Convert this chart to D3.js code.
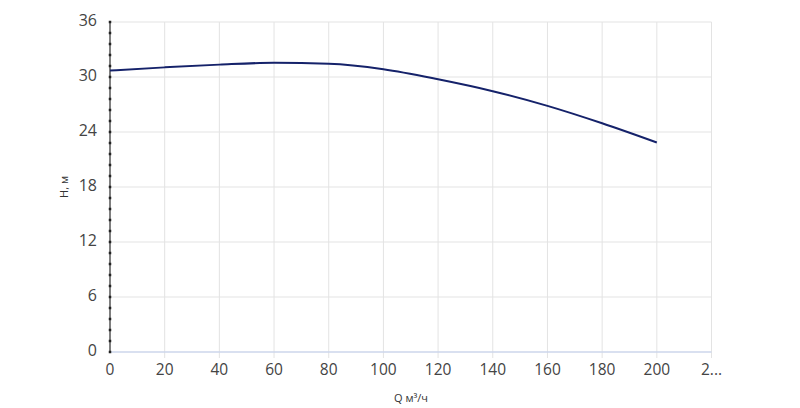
<!DOCTYPE html><html><head><meta charset="utf-8"><script src="https://d3js.org/d3.v7.min.js"></script>
<style>body{margin:0;background:#fff}</style></head><body><svg id="c" width="800" height="408"></svg><script>
const qValues=[0,20,40,60,80,100,120,140,160,180,200];
const hValues=[30.7,31.05,31.35,31.55,31.45,30.85,29.75,28.45,26.85,24.95,22.85];
const xTicks=[0,20,40,60,80,100,120,140,160,180,200,220];
const yTicks=[0,6,12,18,24,30,36];
const svg=d3.select("#c");
const x=d3.scaleLinear().domain([0,220]).range([110,711.5]);
const y=d3.scaleLinear().domain([0,36]).range([352,22]);
const font="Open Sans, sans-serif";
svg.append("g").selectAll("line").data(xTicks.slice(1)).join("line")
 .attr("x1",d=>x(d)).attr("x2",d=>x(d)).attr("y1",y(36)).attr("y2",y(0)+6).attr("stroke","#e3e3e3");
svg.append("g").selectAll("line").data(yTicks.slice(1)).join("line")
 .attr("x1",x(0)).attr("x2",x(220)).attr("y1",d=>y(d)).attr("y2",d=>y(d)).attr("stroke","#e3e3e3");
svg.append("line").attr("x1",x(0)).attr("x2",x(220)).attr("y1",y(0)).attr("y2",y(0)).attr("stroke","#ccd6eb").attr("stroke-width",1.5);
svg.append("line").attr("x1",x(0)).attr("x2",x(0)).attr("y1",y(0)).attr("y2",y(36)).attr("stroke","#555").attr("stroke-width",1.5);
svg.append("g").selectAll("rect").data(d3.range(0,36.01,1.2)).join("rect")
 .attr("x",x(0)-1.25).attr("y",d=>y(d)-1.25).attr("width",2.5).attr("height",2.5).attr("fill","#222");
svg.append("g").selectAll("text").data(yTicks).join("text")
 .attr("x",97).attr("y",d=>y(d)+4).attr("text-anchor","end").attr("font-family",font).attr("font-size",16).attr("fill","#444").text(d=>d);
svg.append("g").selectAll("text").data(xTicks).join("text")
 .attr("x",d=>x(d)).attr("y",375).attr("text-anchor","middle").attr("font-family",font).attr("font-size",15.5).attr("fill","#444").text(d=>d===220?"2...":d);
const line=d3.line().x((d,i)=>x(qValues[i])).y(d=>y(d)).curve(d3.curveMonotoneX);
svg.append("path").attr("d",line(hValues)).attr("fill","none").attr("stroke","#15226a").attr("stroke-width",2);
svg.append("text").attr("x",411).attr("y",402).attr("text-anchor","middle").attr("font-family",font).attr("font-size",11).attr("fill","#333").text("Q м³/ч");
svg.append("text").attr("transform","translate(68,187) rotate(-90)").attr("text-anchor","middle").attr("font-family",font).attr("font-size",11).attr("fill","#333").text("H, м");
</script></body></html>
